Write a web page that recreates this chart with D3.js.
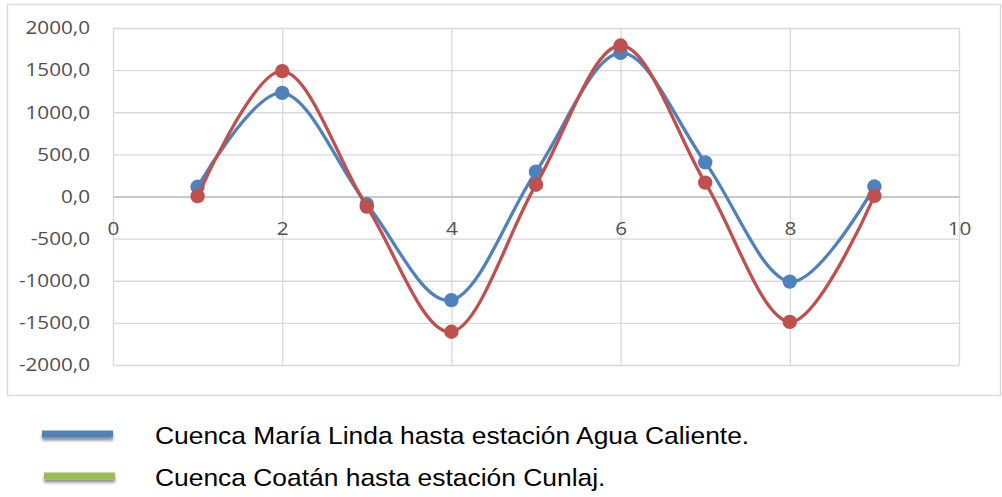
<!DOCTYPE html>
<html>
<head>
<meta charset="utf-8">
<script src="https://cdn.jsdelivr.net/npm/d3@7"></script>
<style>
  html, body { margin: 0; padding: 0; background: #fff; }
  svg { display: block; }
</style>
</head>
<body>
<svg id="chart" width="1002" height="497"></svg>
<script>
// ---- data ----
const xValues = [1, 2, 3, 4, 5, 6, 7, 8, 9];
const seriesMariaLinda = [115, 1230, -90, -1230, 295, 1705, 405, -1010, 118];
const seriesCoatan = [5, 1488, -120, -1605, 140, 1792, 165, -1488, 8];
const seriesNames = [
  "Cuenca María Linda hasta estación Agua Caliente.",
  "Cuenca Coatán hasta estación Cunlaj."
];
const xTicks = [0, 2, 4, 6, 8, 10];
const yTicks = [-2000, -1500, -1000, -500, 0, 500, 1000, 1500, 2000];

// ---- styles ----
const lineColors = ["#4F81BD", "#C0504D"];
const legendColors = ["#4F81BD", "#9BBB59"];
const gridColor = "#D9D9D9";
const textColor = "#505050";
const stretch = 1.15;

const svg = d3.select("#chart");

const defs = svg.append("defs");
const f = defs.append("filter").attr("id", "shadow")
  .attr("x", "-10%").attr("y", "-100%").attr("width", "120%").attr("height", "400%");
f.append("feDropShadow").attr("dx", 0).attr("dy", 3).attr("stdDeviation", 1.6)
  .attr("flood-color", "#000").attr("flood-opacity", 0.45);

// outer chart border
svg.append("rect")
  .attr("x", 7.5).attr("y", 4.5).attr("width", 993).attr("height", 391)
  .attr("fill", "#fff").attr("stroke", gridColor).attr("stroke-width", 1.3);

const pLeft = 113, pRight = 959, pTop = 28, pBottom = 365;
const x = d3.scaleLinear().domain([0, 10]).range([pLeft, pRight]);
const y = d3.scaleLinear().domain([-2000, 2000]).range([pBottom, pTop]);

const fmt = d => d.toFixed(1).replace(".", ",");

// vertical gridlines
const xGrid = svg.append("g")
  .attr("transform", `translate(0,${pBottom})`)
  .call(d3.axisBottom(x).tickValues(xTicks).tickSize(-(pBottom - pTop)).tickFormat(""));
xGrid.select(".domain").remove();
xGrid.selectAll(".tick line").attr("stroke", gridColor).attr("stroke-width", 1.3);

// horizontal gridlines + y labels
const yAxis = svg.append("g")
  .attr("transform", `translate(${pLeft},0)`)
  .call(d3.axisLeft(y).tickValues(yTicks).tickSize(-(pRight - pLeft)).tickPadding(0).tickFormat(fmt));
yAxis.select(".domain").remove();
yAxis.selectAll(".tick line").attr("stroke", gridColor).attr("stroke-width", 1.3);
yAxis.selectAll(".tick text")
  .attr("x", 0)
  .attr("transform", `translate(-23,0) scale(${stretch},1)`)
  .attr("fill", textColor)
  .style("font-family", "'Open Sans', sans-serif")
  .style("font-size", "18px")
  .attr("text-anchor", "end");

// x axis at zero
const xAxis = svg.append("g")
  .attr("transform", `translate(0,${y(0)})`)
  .call(d3.axisBottom(x).tickValues(xTicks).tickSize(0).tickPadding(0).tickFormat(d3.format("d")));
xAxis.select(".domain").attr("stroke", "#BFBFBF").attr("stroke-width", 1.3);
xAxis.selectAll(".tick text")
  .attr("y", 0).attr("dy", null)
  .attr("transform", `translate(0,38) scale(${stretch},1)`)
  .attr("fill", textColor)
  .style("font-family", "'Open Sans', sans-serif")
  .style("font-size", "18px")
  .attr("text-anchor", "middle");

// series
const allSeries = [seriesMariaLinda, seriesCoatan];
const line = d3.line()
  .x(d => x(d[0]))
  .y(d => y(d[1]))
  .curve(d3.curveCatmullRom.alpha(0));

allSeries.forEach((vals, i) => {
  const pts = xValues.map((xv, j) => [xv, vals[j]]);
  svg.append("path")
    .datum(pts)
    .attr("d", line)
    .attr("fill", "none")
    .attr("stroke", lineColors[i])
    .attr("stroke-width", 3.3)
    .attr("stroke-linejoin", "round");
  svg.append("g").selectAll("circle")
    .data(pts).join("circle")
    .attr("cx", d => x(d[0]))
    .attr("cy", d => y(d[1]))
    .attr("r", 7.2)
    .attr("fill", lineColors[i]);
});

// legend
const legY = [434, 476];
const legend = svg.append("g");
seriesNames.forEach((name, i) => {
  legend.append("rect")
    .attr("x", 42 + i * 2).attr("y", legY[i] - 3.5)
    .attr("width", 71).attr("height", 7)
    .attr("fill", legendColors[i])
    .attr("filter", "url(#shadow)");
  legend.append("text")
    .attr("transform", `translate(155,${legY[i] + 9.5}) scale(1.1,1)`)
    .attr("fill", "#000")
    .style("font-family", "'Liberation Sans', Arial, sans-serif")
    .style("font-size", "24px")
    .text(name);
});
</script>
</body>
</html>
